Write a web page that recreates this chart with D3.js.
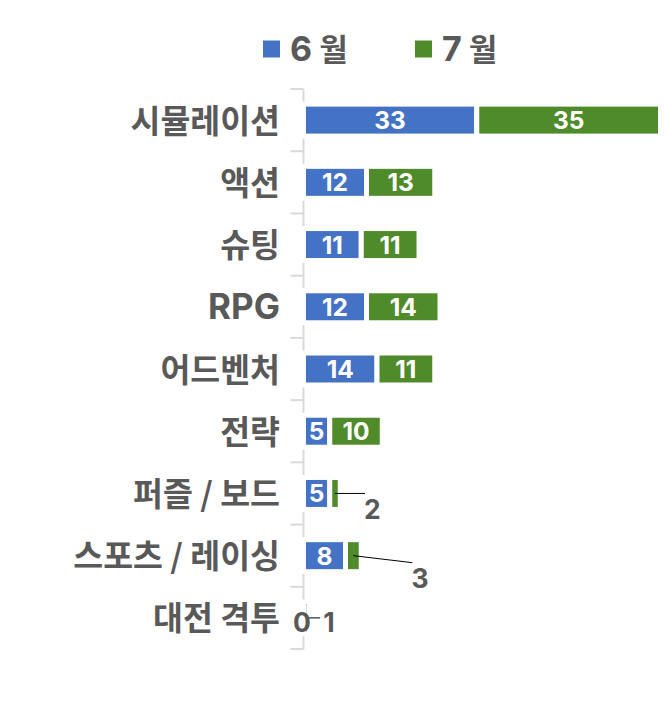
<!DOCTYPE html>
<html>
<head>
<meta charset="utf-8">
<script src="https://cdn.jsdelivr.net/npm/d3@7"></script>
<style>
  html, body { margin: 0; padding: 0; background: #fff; }
  svg { display: block; }
</style>
</head>
<body>
<svg id="chart" width="667" height="717"></svg>
<script>
// ---- data ----
const categories = ["시뮬레이션", "액션", "슈팅", "RPG", "어드벤처", "전략", "퍼즐 / 보드", "스포츠 / 레이싱", "대전 격투"];
const seriesNames = ["6 월", "7 월"];
const june = [33, 12, 11, 12, 14, 5, 5, 8, 0];
const july = [35, 13, 11, 14, 11, 10, 2, 3, 1];

// ---- style / layout ----
const colors = ["#4472c4", "#4f8a2b"];
const textGray = "#595959";
const latinFont = "Inter, 'Open Sans', sans-serif";
const korFont = "'Noto Sans CJK KR', sans-serif";
const latinSize = 35;
const korSize = 32.5;

// outside label placements: [category index, series index, leader dx, leader dy, text dx, text baseline dy, anchor]
const outsideLabels = [
  [6, 1, 30, 0, 29, 26, "start"],
  [7, 1, 59, 7, 58, 32, "start"],
  [8, 1, 14, 0, 17, 14, "start"],
  [8, 0, null, null, -1.5, 14, "middle"]
];

const svg = d3.select("#chart");

// mixed-script text: latin/digit runs in latin font, the rest in Korean font
function mixedText(sel, str, lSize, kSize) {
  const parts = str.split(/([A-Za-z0-9]+)/).filter(p => p.length);
  parts.forEach(p => {
    const latin = /^[A-Za-z0-9]+$/.test(p);
    sel.append("tspan")
      .attr("font-family", latin ? latinFont : korFont)
      .attr("font-size", latin ? lSize : kSize)
      .text(p);
  });
}

const y = d3.scaleBand()
  .domain(categories)
  .range([89, 649])
  .paddingInner(0.486)
  .paddingOuter(0.243);
const step = y.step();

const x = d3.scaleLinear().domain([0, 68]).range([303.5, 660.5]);

// stack
const rows = categories.map((c, i) => ({ cat: c, v: [june[i], july[i]] }));
const segs = [];
rows.forEach((r, i) => {
  let acc = 0;
  r.v.forEach((v, s) => {
    segs.push({ cat: r.cat, ci: i, s, v, x0: acc, x1: acc + v });
    acc += v;
  });
});

// axis line + ticks (category boundaries)
const axisG = svg.append("g");
axisG.append("line")
  .attr("x1", x(0)).attr("x2", x(0))
  .attr("y1", y.range()[0]).attr("y2", y.range()[1])
  .attr("stroke", "#d9d9d9").attr("stroke-width", 2);
const bounds = d3.range(categories.length + 1).map(i => y.range()[0] + i * step);
axisG.selectAll("line.tick").data(bounds).join("line")
  .attr("class", "tick")
  .attr("x1", x(0) - 13).attr("x2", x(0))
  .attr("y1", d => d).attr("y2", d => d)
  .attr("stroke", "#d9d9d9").attr("stroke-width", 2);

// category labels
svg.append("g").selectAll("text").data(categories).join("text")
  .attr("x", 280)
  .attr("y", d => y(d) + y.bandwidth() / 2 + 12.5)
  .attr("text-anchor", "end")
  .attr("font-weight", 700)
  .attr("fill", textGray)
  .each(function (d) { mixedText(d3.select(this), d, latinSize, korSize); });

// bars
svg.append("g").selectAll("rect").data(segs).join("rect")
  .attr("x", d => x(d.x0))
  .attr("y", d => y(d.cat))
  .attr("width", d => x(d.x1) - x(d.x0))
  .attr("height", y.bandwidth())
  .attr("fill", d => colors[d.s])
  .attr("stroke", "#fff")
  .attr("stroke-width", 5);

// labels
const isOutside = d => outsideLabels.some(o => o[0] === d.ci && o[1] === d.s);
svg.append("g").selectAll("text").data(segs.filter(d => !isOutside(d))).join("text")
  .attr("x", d => (x(d.x0) + x(d.x1)) / 2)
  .attr("y", d => y(d.cat) + y.bandwidth() / 2 + 9)
  .attr("text-anchor", "middle")
  .attr("font-family", latinFont)
  .attr("font-weight", 700)
  .attr("font-size", 24.5)
  .attr("fill", "#fff")
  .text(d => d.v);

const outG = svg.append("g");
outsideLabels.forEach(o => {
  const d = segs.find(s => s.ci === o[0] && s.s === o[1]);
  const cx = (x(d.x0) + x(d.x1)) / 2;
  const cy = y(d.cat) + y.bandwidth() / 2;
  if (o[2] !== null) {
    outG.append("line")
      .attr("x1", cx).attr("y1", cy)
      .attr("x2", cx + o[2]).attr("y2", cy + o[3])
      .attr("stroke", "#000").attr("stroke-width", 1);
  }
  outG.append("text")
    .attr("x", cx + o[4])
    .attr("y", cy + o[5])
    .attr("text-anchor", o[6])
    .attr("font-family", latinFont)
    .attr("font-weight", 700)
    .attr("font-size", 26.5)
    .attr("fill", textGray)
    .text(d.v);
});

// legend
const legendX = [263, 415];
const leg = svg.append("g");
seriesNames.forEach((n, i) => {
  leg.append("rect")
    .attr("x", legendX[i]).attr("y", 40.5)
    .attr("width", 17).attr("height", 17)
    .attr("fill", colors[i]);
  const t = leg.append("text")
    .attr("x", legendX[i] + 27)
    .attr("y", 61)
    .attr("font-weight", 700)
    .attr("fill", textGray);
  mixedText(t, n, 34, 31);
});
</script>
</body>
</html>
